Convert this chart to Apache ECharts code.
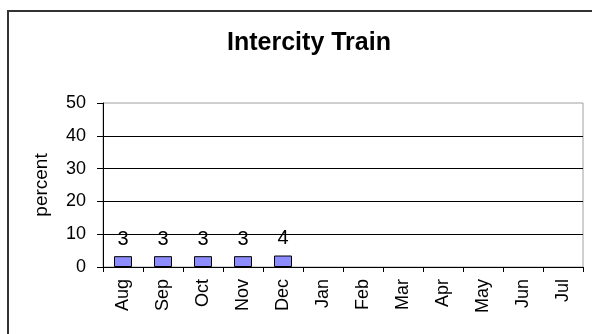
<!DOCTYPE html>
<html>
<head>
<meta charset="utf-8">
<script src="https://cdn.jsdelivr.net/npm/echarts@6/dist/echarts.min.js"></script>
<style>
  html, body { margin: 0; padding: 0; background: #fff; }
  #chart { width: 592px; height: 334px; }
</style>
</head>
<body>
<div id="chart"></div>
<script>
// months on the x axis
const months = ["Aug", "Sep", "Oct", "Nov", "Dec", "Jan", "Feb", "Mar", "Apr", "May", "Jun", "Jul"];
// percent values (bars only for Aug - Dec)
const percent = [3.3, 3.3, 3.3, 3.3, 3.5, null, null, null, null, null, null, null];
const yTicks = [0, 10, 20, 30, 40, 50];

let chart = echarts.init(document.getElementById("chart"));
chart.setOption({
  animation: false,
  textStyle: { fontFamily: "Liberation Sans" },
  graphic: [
    { // outer frame
      type: "rect",
      shape: { x: 8, y: 11, width: 700, height: 400 },
      style: { fill: "none", stroke: "#333", lineWidth: 2 }
    }
  ],
  title: {
    text: "Intercity Train",
    left: 304,
    top: 26,
    textAlign: "center",
    textStyle: { fontSize: 25, fontWeight: "bold", color: "#000", fontFamily: "Liberation Sans" }
  },
  grid: {
    left: 103,
    right: 9,
    top: 103,
    bottom: 67,
    show: true,
    borderColor: "#a0a0a0",
    borderWidth: 1
  },
  xAxis: {
    type: "category",
    data: months,
    axisLine: { lineStyle: { color: "#000", width: 1 } },
    axisTick: { show: true, length: 5, lineStyle: { color: "#000" } },
    axisLabel: {
      rotate: 90,
      margin: 12,
      color: "#000",
      fontSize: 18,
      interval: 0
    }
  },
  yAxis: {
    type: "value",
    min: yTicks[0],
    max: yTicks[yTicks.length - 1],
    interval: 10,
    name: "percent",
    nameLocation: "middle",
    nameGap: 52,
    nameRotate: 90,
    nameTextStyle: { fontSize: 19, color: "#000" },
    axisLine: { show: true, lineStyle: { color: "#000" } },
    axisTick: { show: true, length: 6, lineStyle: { color: "#000" } },
    axisLabel: { color: "#000", fontSize: 18, margin: 17 },
    splitLine: {
      show: true,
      showMaxLine: false,
      lineStyle: { color: "#000", width: 1 }
    }
  },
  series: [
    {
      type: "bar",
      data: percent,
      barWidth: "45%",
      itemStyle: { color: "#8c8cff", borderColor: "#000", borderWidth: 1 },
      label: {
        show: true,
        position: "top",
        distance: 7,
        color: "#000",
        fontSize: 20,
        formatter: p => Math.round(p.value)
      }
    }
  ]
});
</script>
</body>
</html>
